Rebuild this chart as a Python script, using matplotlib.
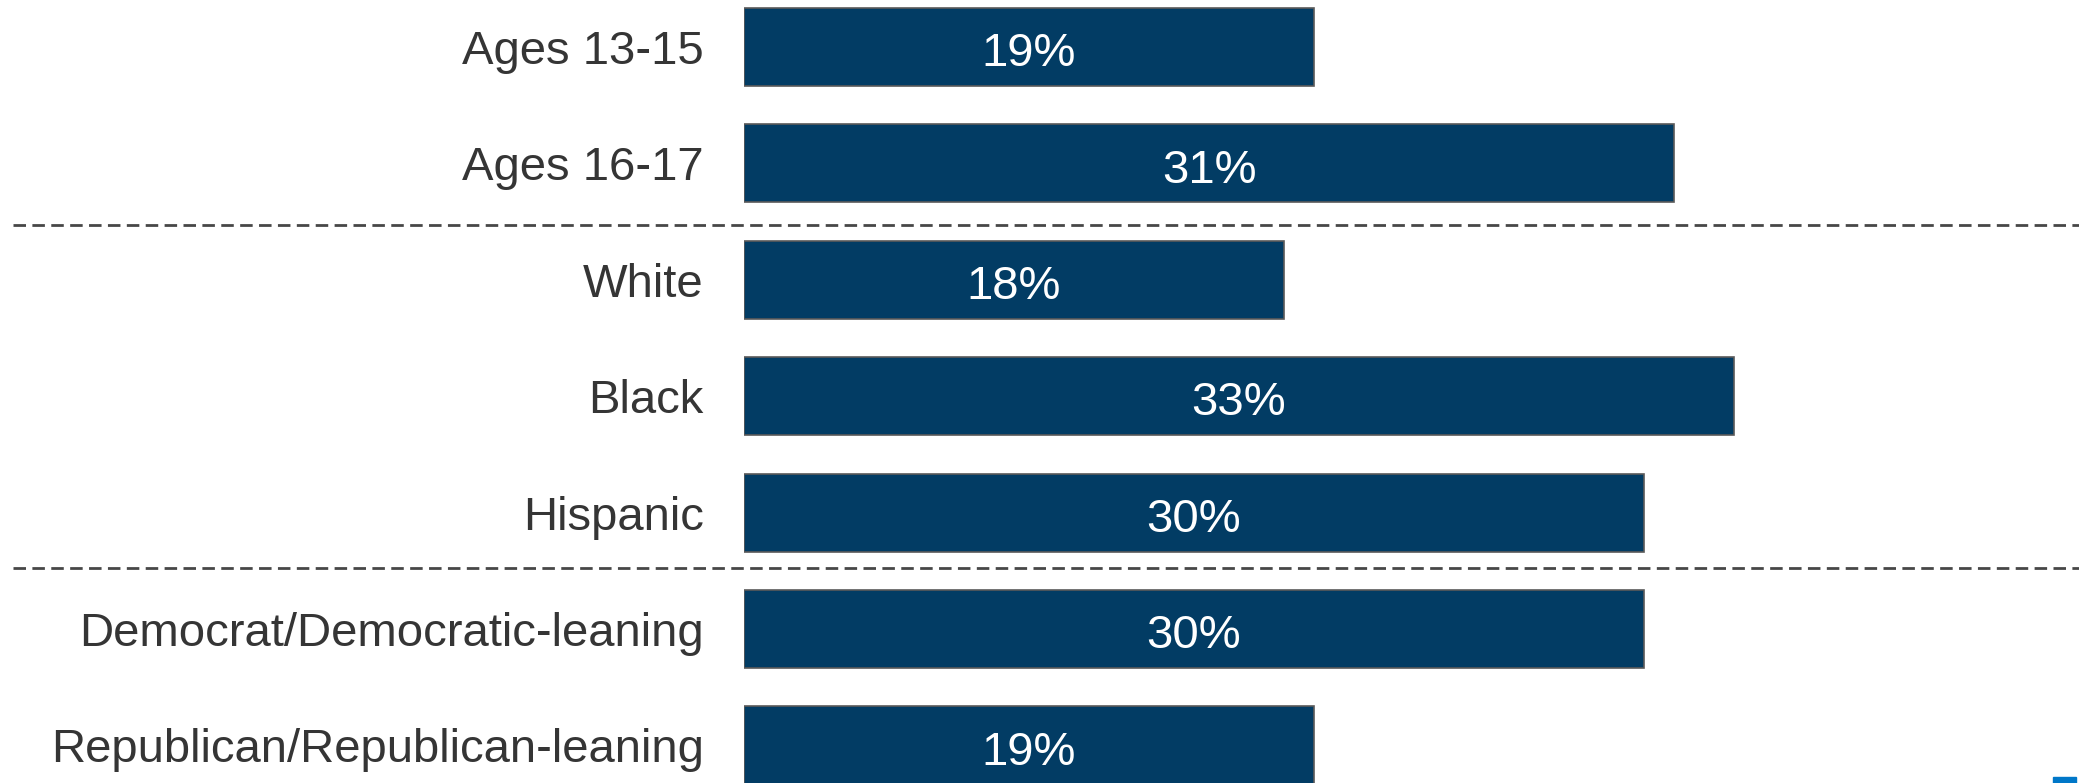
import matplotlib
matplotlib.use("Agg")
import matplotlib.pyplot as plt
from matplotlib.patches import Rectangle

# data
groups = ["Ages 13-15", "Ages 16-17", "White", "Black", "Hispanic",
          "Democrat/Democratic-leaning", "Republican/Republican-leaning"]
shares = [19, 31, 18, 33, 30, 30, 19]
dividers = [1.53, 4.48]

plt.rcParams['font.family'] = ['Liberation Sans', 'DejaVu Sans']

bar_color = '#023c64'
text_color = '#353535'

fig = plt.figure(figsize=(20.79, 7.83), dpi=100, facecolor='w')
ax = fig.add_axes([744 / 2079, 0, 1 - 744 / 2079, 1])

ypos = list(range(len(groups)))
ax.barh(ypos, shares, height=0.67, color=bar_color, edgecolor='#5a5a5a', linewidth=1.2)

# value labels in the middle of each bar (baseline placed so digits sit centred)
for y, v in zip(ypos, shares):
    ax.text(v / 2, y + 0.165, f"{v}%", ha='center', va='baseline',
            color='white', fontsize=34)

# dashed separators between the groups, running out to the left edge
for d in dividers:
    ax.axhline(d, xmin=-(744 - 13) / (2079 - 744), xmax=1, color='#474747',
               linestyle=(0, (4.5, 2.3)), linewidth=2, clip_on=False)

ax.set_xlim(0, 44.5)
ax.set_ylim(6.323, -0.404)
ax.set_yticks(ypos)
ax.set_yticklabels(groups, fontsize=34, color=text_color)
ax.tick_params(axis='y', length=0, pad=29)
ax.set_xticks([])
for s in ax.spines.values():
    s.set_visible(False)

# small blue corner mark at the bottom right
fig.patches.append(Rectangle((2053 / 2079, 0), 23 / 2079, 6 / 783,
                             transform=fig.transFigure, color='#0077c8', zorder=5))

fig.savefig('out.png', dpi=100, facecolor='w')
